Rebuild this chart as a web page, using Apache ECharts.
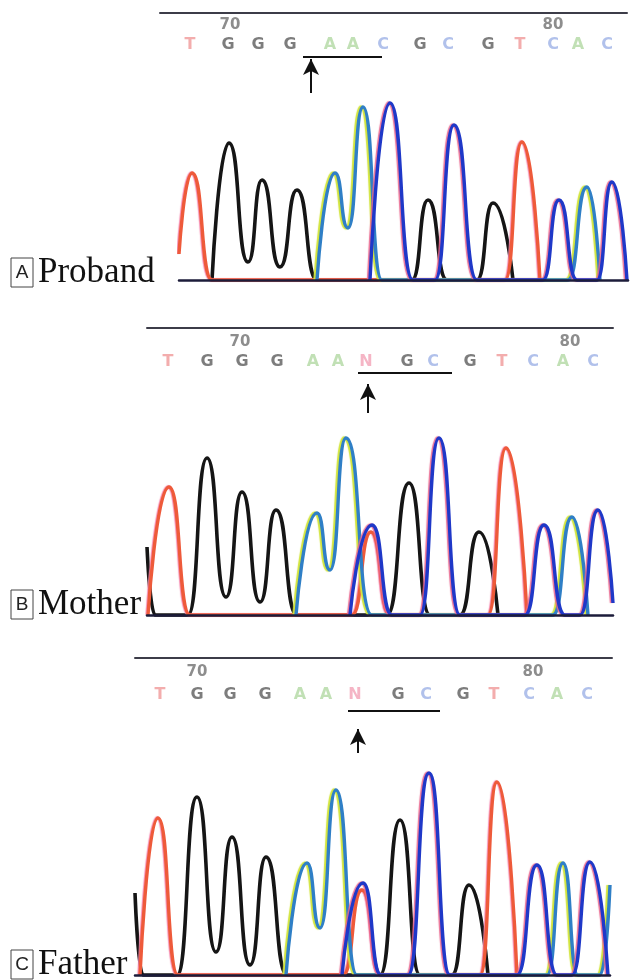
<!DOCTYPE html>
<html><head><meta charset="utf-8">
<script src="https://cdn.jsdelivr.net/npm/echarts@6/dist/echarts.min.js"></script>
<style>html,body{margin:0;padding:0;background:#fff}#c{width:630px;height:980px}</style>
</head><body><div id="c"></div>
<script>
// ---------- DATA (scan position, signal intensity) ----------
// Panel A : Proband
const probandT = [[0,130],[13,535],[33,0],[326,0],[343,690],[361,0]];
const probandG = [[33,0],[50,685],[69,90],[83,500],[101,65],[118,450],[138,0],[233,0],[249,400],[268,0],[298,0],[314,385],[334,0]];
const probandA = [[138,0],[156,535],[169,260],[184,865],[203,0],[389,0],[408,465],[421,0]];
const probandC = [[191,0],[211,885],[234,0],[256,0],[275,775],[298,0],[364,0],[380,400],[398,0],[418,0],[433,490],[448,0]];
// Panel B : Mother
const motherT = [[1,0],[22,640],[43,0],[205,0],[224,415],[243,0],[341,0],[359,835],[380,0]];
const motherG = [[0,340],[8,0],[41,0],[60,785],[79,90],[95,615],[113,65],[129,525],[150,0],[240,0],[262,660],[283,0],[313,0],[332,415],[351,0]];
const motherA = [[149,0],[170,510],[183,225],[199,885],[225,0],[406,0],[425,490],[441,0]];
const motherC = [[203,0],[225,450],[245,0],[273,0],[292,885],[313,0],[378,0],[397,450],[418,0],[433,0],[451,525],[466,60]];
// Panel C : Father
const fatherT = [[5,0],[23,785],[43,0],[208,0],[227,425],[246,0],[345,0],[362,965],[382,0]];
const fatherG = [[0,410],[8,0],[42,0],[62,890],[81,115],[97,690],[115,50],[131,590],[152,0],[245,0],[265,775],[285,0],[317,0],[334,450],[353,0]];
const fatherA = [[151,0],[172,560],[185,235],[201,925],[222,0],[412,0],[428,560],[443,0],[465,0],[475,450]];
const fatherC = [[207,0],[228,460],[246,0],[273,0],[294,1010],[315,0],[382,0],[402,550],[422,0],[437,0],[455,565],[473,0]];

// Base calls and their scan positions
const basesA = ['T','G','G','G','A','A','C','G','C','G','T','C','A','C'];
const basePosA = [11,49,79,111,151,174,204,241,269,309,341,374,399,428];
const basesB = ['T','G','G','G','A','A','N','G','C','G','T','C','A','C'];
const basePosB = [21,60,95,130,166,191,219,260,286,323,355,386,416,446];
const basesC = ['T','G','G','G','A','A','N','G','C','G','T','C','A','C'];
const basePosC = [25,62,95,130,165,191,220,263,291,328,359,394,422,452];

// Sequence position tick labels
const tickLabels = ['70','80'];
const tickPosA = [51,374];
const tickPosB = [93,423];
const tickPosC = [62,398];

// Marked region (underline start/end) and arrow position
const markA = [124,203], arrowA = 132;
const markB = [211,305], arrowB = 221;
const markC = [213,305], arrowC = 223;

const panelLetters = ['A','B','C'];
const panelNames = ['Proband','Mother','Father'];

// ---------- STYLE / LAYOUT ----------
const layout = [
  {chart:{left:179,right:2,top:60,height:220}, xmax:449,
   head:{left:160,right:3,top:13,height:100}, hmin:-19, hmax:448,
   tickY:12, baseY:32, markY:44, arrowY:[80,46], label:{y:258}},
  {chart:{left:147,right:17,top:395,height:220}, xmax:466,
   head:{left:147,right:17,top:328,height:100}, hmin:0, hmax:466,
   tickY:14, baseY:34, markY:45, arrowY:[85,56], label:{y:590}},
  {chart:{left:135,right:20,top:755,height:220}, xmax:475,
   head:{left:135,right:18,top:658,height:100}, hmin:0, hmax:477,
   tickY:14, baseY:37, markY:53, arrowY:[95,71], label:{y:950}}
];
const traceStyle = {
  G:{color:'#151515', width:3.6},
  T:{color:'#ee5a3a', width:3.4, shadowColor:'rgba(245,130,170,0.9)', shadowBlur:1, shadowOffsetX:-1},
  A:{color:'#2f7fc6', width:3.4, shadowColor:'#d2e43c', shadowBlur:1, shadowOffsetX:-2},
  C:{color:'#1f38c8', width:3.4, shadowColor:'rgba(232,100,140,0.9)', shadowBlur:1, shadowOffsetX:-1.5}
};
const letterColor = {T:'#f09898', G:'#5c5c5c', A:'#b2d8a2', C:'#9db2e6', N:'#f2a2b6'};

const traces = [
  {G:probandG, T:probandT, A:probandA, C:probandC},
  {G:motherG, T:motherT, A:motherA, C:motherC},
  {G:fatherG, T:fatherT, A:fatherA, C:fatherC}
];
const bases = [basesA, basesB, basesC];
const basePos = [basePosA, basePosB, basePosC];
const tickPos = [tickPosA, tickPosB, tickPosC];
const marks = [markA, markB, markC];
const arrows = [arrowA, arrowB, arrowC];

const grid = [], xAxis = [], yAxis = [], series = [], graphic = [];
layout.forEach((L, p) => {
  const gc = grid.length;
  grid.push(Object.assign({}, L.chart));
  xAxis.push({gridIndex:gc, type:'value', min:0, max:L.xmax, position:'bottom', z:5,
    axisLine:{show:true, onZero:false, lineStyle:{color:'#1c1c3a', width:2.5}},
    axisTick:{show:false}, axisLabel:{show:false}, splitLine:{show:false}});
  yAxis.push({gridIndex:gc, type:'value', min:0, max:1100, show:false, splitLine:{show:false}});
  ['G','T','A','C'].forEach(b => {
    series.push({type:'line', xAxisIndex:gc, yAxisIndex:gc, data:traces[p][b],
      smooth:0.6, smoothMonotone:'x', symbol:'none', showSymbol:false, clip:false,
      silent:true, z:2, lineStyle:traceStyle[b], emphasis:{disabled:true}, animation:false});
  });
  const gh = grid.length;
  grid.push(Object.assign({}, L.head));
  xAxis.push({gridIndex:gh, type:'value', min:L.hmin, max:L.hmax, position:'top',
    axisLine:{show:true, onZero:false, lineStyle:{color:'#3c3c48', width:2}},
    axisTick:{show:false}, axisLabel:{show:false}, splitLine:{show:false}});
  yAxis.push({gridIndex:gh, type:'value', min:0, max:100, inverse:true, show:false, splitLine:{show:false}});
  series.push({type:'scatter', xAxisIndex:gh, yAxisIndex:gh, symbolSize:1, silent:true,
    itemStyle:{color:'rgba(0,0,0,0)'}, emphasis:{disabled:true}, animation:false,
    data: bases[p].map((b,i) => ({name:b, value:[basePos[p][i], L.baseY],
      label:{color:letterColor[b]}})),
    label:{show:true, position:'inside', formatter:'{b}', fontSize:16, fontWeight:'bold',
      fontFamily:'DejaVu Sans'}});
  series.push({type:'scatter', xAxisIndex:gh, yAxisIndex:gh, symbolSize:1, silent:true,
    itemStyle:{color:'rgba(0,0,0,0)'}, emphasis:{disabled:true}, animation:false,
    data: tickLabels.map((t,i) => ({name:t, value:[tickPos[p][i], L.tickY]})),
    label:{show:true, position:'inside', formatter:'{b}', fontSize:15, fontWeight:'bold',
      fontFamily:'DejaVu Sans', color:'#707070'},
    markLine:{silent:true, animation:false, symbol:'none', label:{show:false},
      emphasis:{disabled:true},
      lineStyle:{color:'#111', width:2, type:'solid'},
      data:[
        [{coord:[marks[p][0], L.markY]}, {coord:[marks[p][1], L.markY]}],
        [{coord:[arrows[p], L.arrowY[0]], symbol:'none'},
         {coord:[arrows[p], L.arrowY[1]], symbol:'arrow', symbolSize:[12,16]}]
      ]}});
  const ly = L.label.y;
  graphic.push({type:'rect', shape:{x:11, y:ly, width:22, height:29},
    style:{fill:'none', stroke:'#444', lineWidth:1}});
  graphic.push({type:'text', x:22, y:ly+15, style:{text:panelLetters[p],
    font:'19px "Liberation Sans"', fill:'#222', align:'center', verticalAlign:'middle'}});
  graphic.push({type:'text', x:38, y:ly+15, style:{text:panelNames[p],
    font:'35px "Liberation Serif"', fill:'#111', align:'left', verticalAlign:'middle'}});
});

const chart = echarts.init(document.getElementById('c'), null, {renderer:'canvas'});
chart.setOption({animation:false, backgroundColor:'#ffffff', grid, xAxis, yAxis, series, graphic});
</script>
</body></html>
